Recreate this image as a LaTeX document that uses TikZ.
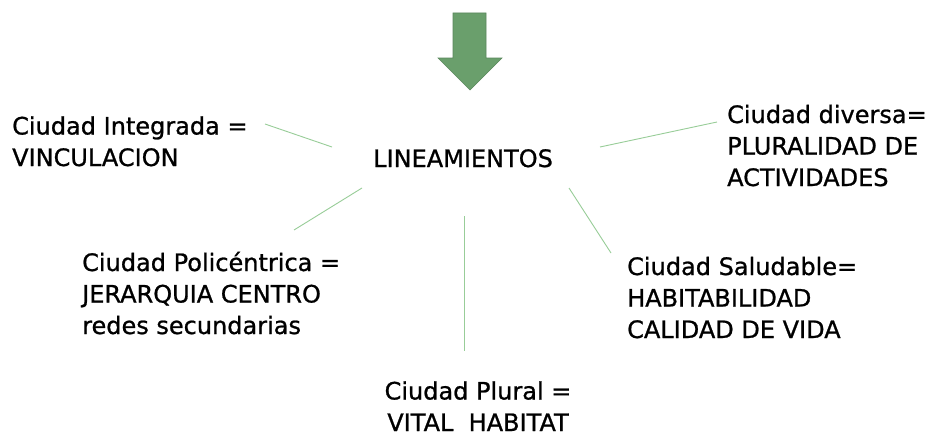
\documentclass[tikz,border=0pt]{standalone}
\usepackage{fontspec}
\setmainfont{DejaVu Sans}[FakeBold=0.9]
\begin{document}
\begin{tikzpicture}[x=1pt,y=-1pt,
  lbl/.style={inner sep=0pt,anchor=base west,align=left,font=\fontsize{24}{31.5}\selectfont},
  conn/.style={draw=green!35!gray!60,line width=0.9pt},
  bigarrow/.style={fill=arrowgreen,draw=arrowgreen!85!black,line width=0.6pt}]
\definecolor{arrowgreen}{HTML}{6A9F6C}
\useasboundingbox (0,0) rectangle (933,436);
\fill[white] (0,0) rectangle (933,436);
% arrow
\draw[bigarrow] (453,13) -- (486,13) -- (486,58) -- (502,58) -- (470,90) -- (438,58) -- (453,58) -- cycle;
\node[lbl] (lin) at (373,167) {LINEAMIENTOS};
\node[lbl] (integ) at (12,166) {Ciudad Integrada =\\VINCULACION};
\node[lbl] (div) at (727,186) {Ciudad diversa=\\PLURALIDAD DE\\ACTIVIDADES};
\node[lbl] (poli) at (82,334) {Ciudad Policéntrica =\\JERARQUIA CENTRO\\redes secundarias};
\node[lbl,align=center,anchor=base] (plur) at (478,431) {Ciudad Plural =\\VITAL\ \ HABITAT};
\node[lbl] (salu) at (627,338) {Ciudad Saludable=\\HABITABILIDAD\\CALIDAD DE VIDA};
\coordinate (c1a) at (265,124); \coordinate (c1b) at (332,147);
\coordinate (c2a) at (600,147); \coordinate (c2b) at (717,122);
\coordinate (c3a) at (362,188); \coordinate (c3b) at (294,230);
\coordinate (c4a) at (464,216); \coordinate (c4b) at (464,351);
\coordinate (c5a) at (569,188); \coordinate (c5b) at (611,253);
\draw[conn] (c1a) -- (c1b);
\draw[conn] (c2a) -- (c2b);
\draw[conn] (c3a) -- (c3b);
\draw[conn] (c4a) -- (c4b);
\draw[conn] (c5a) -- (c5b);
\end{tikzpicture}
\end{document}
